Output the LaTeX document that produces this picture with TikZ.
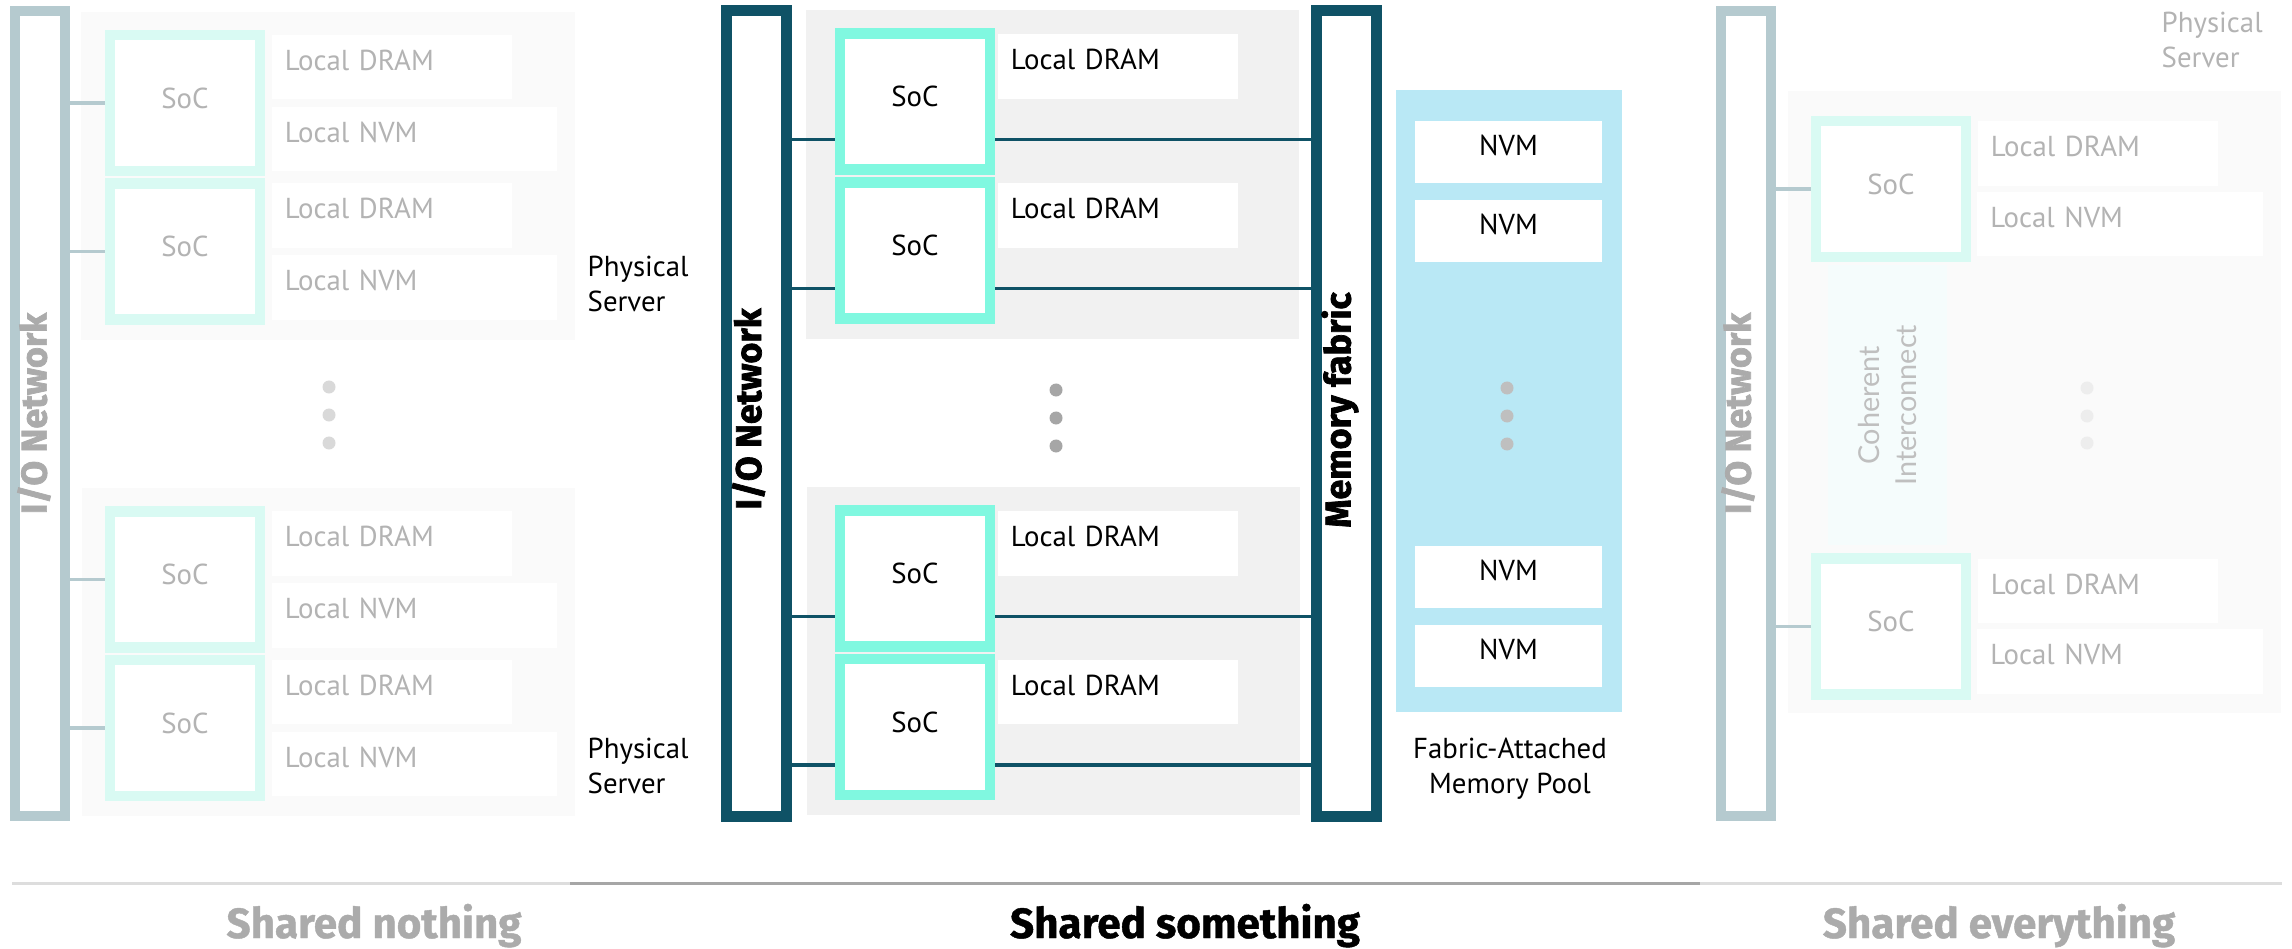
\documentclass[tikz,border=0pt]{standalone}
\usepackage{fontspec}
\setmainfont{PT Sans}
\newfontfamily\barfont{Fira Sans}[BoldFeatures={FakeBold=2}]
\newfontfamily\headfont{Fira Sans}[BoldFeatures={FakeBold=1}]
\newfontfamily\thinfont{Lato}
\usepackage{tikz}
\definecolor{netdark}{HTML}{0F5266}
\definecolor{netpale}{HTML}{B5CACF}
\definecolor{socmint}{HTML}{80F8E0}
\definecolor{socpale}{HTML}{D9FAF3}
\definecolor{poolblue}{HTML}{B9E8F5}
\definecolor{srvgray}{HTML}{F1F1F1}
\definecolor{srvfade}{HTML}{FAFAFA}
\definecolor{cohfade}{HTML}{F5FCFC}
\definecolor{txtfade}{HTML}{B3B3B3}
\definecolor{barfade}{HTML}{ABABAB}
\definecolor{rulelight}{HTML}{DDDDDD}
\definecolor{ruledark}{HTML}{A6A6A6}
\tikzset{
  server/.style={minimum width=4.93cm, minimum height=3.28cm, inner sep=0pt},
  bar/.style={draw, fill=white, line width=0.1cm, minimum width=0.5cm, minimum height=8.05cm, inner sep=0pt},
  bartext/.style={rotate=90, inner sep=0pt, font=\barfont\bfseries\fontsize{10.2}{12}\selectfont},
  soc/.style={draw, fill=white, line width=0.105cm, minimum width=1.495cm, minimum height=1.355cm, text depth=0.1cm, inner sep=0pt},
  dram/.style={fill=white, minimum width=2.4cm, minimum height=0.64cm, text width=2.14cm, inner xsep=0.13cm, inner ysep=0pt, text depth=0.14cm, align=left},
  nvm/.style={dram, minimum width=2.85cm, text width=2.59cm},
  poolnvm/.style={fill=white, minimum width=1.87cm, minimum height=0.62cm, inner sep=0pt, text depth=0.14cm},
  wire/.style={line width=0.035cm},
  caption/.style={inner sep=0pt, align=left},
  title/.style={inner sep=0pt, font=\headfont\bfseries\fontsize{12}{14}\selectfont},
}
\begin{document}
\begin{tikzpicture}[x=0.01cm,y=-0.01cm,font=\fontsize{8.2}{10}\selectfont]
\useasboundingbox (0,0) rectangle (2292,949);
% shared nothing
\node[server,fill=srvfade] (nsrv1) at (328,176) {};
\node[server,fill=srvfade] (nsrv2) at (328.5,652) {};
\node[bar,draw=netpale] (nnet) at (40,413.5) {};
\node[bartext,text=barfade] (nnettext) at ([xshift=-0.06cm]nnet.center) {I/O Network};
\foreach \n/\y in {1/103,2/251.5,3/579.5,4/728}{
  \node[soc,draw=socpale,text=txtfade] (nsoc\n) at (185,\y) {SoC};
  \node[dram,text=txtfade] (ndram\n) at (392,\y-36) {Local DRAM};
  \node[nvm,text=txtfade] (nnvm\n) at (414.5,\y+36) {Local NVM};
  \draw[wire,netpale] (nsoc\n.west -| nnet.east) -- (nsoc\n.west);
}
\foreach \y in {387,415,443} \fill[black!15] (329,\y) circle (0.065cm);
\node[caption,anchor=north west] (srvlabel1) at (587,255) {Physical\\Server};
\node[caption,anchor=north west] (srvlabel2) at (587,737) {Physical\\Server};
% shared something
\node[server,fill=srvgray] (ssrv1) at (1052.5,174.5) {};
\node[server,fill=srvgray] (ssrv2) at (1053.5,651) {};
\node[bar,draw=netdark,line width=0.11cm,minimum width=0.6cm] (snet) at (756.5,413.5) {};
\node[bartext] (snettext) at ([xshift=-0.08cm,yshift=0.045cm]snet.center) {I/O Network};
\node[bar,draw=netdark,line width=0.11cm,minimum width=0.6cm] (fabric) at (1346.5,413.5) {};
\node[bartext] (fabrictext) at ([xshift=-0.065cm,yshift=0.035cm]fabric.center) {Memory fabric};
\foreach \n/\y in {1/101.5,2/250.5,3/578.5,4/727}{
  \node[soc,draw=socmint] (ssoc\n) at (915,\y) {SoC};
  \node[dram] (sdram\n) at (1118,\y-35) {Local DRAM};
  \draw[wire,netdark] ([yshift=-0.38cm]ssoc\n.west -| snet.east) -- ([yshift=-0.38cm]ssoc\n.west);
  \draw[wire,netdark] ([yshift=-0.38cm]ssoc\n.east) -- ([yshift=-0.38cm]ssoc\n.east -| fabric.west);
}
\foreach \y in {390,418,446} \fill[ruledark] (1056,\y) circle (0.065cm);
\node[fill=poolblue,minimum width=2.26cm,minimum height=6.22cm,inner sep=0pt] (pool) at (1509,401) {};
\foreach \n/\y in {1/152,2/231,3/577,4/656}
  \node[poolnvm] (pnvm\n) at (1508.5,\y) {NVM};
\foreach \y in {388,416,444} \fill[black!25] (1507,\y) circle (0.065cm);
\node[caption,align=center,anchor=north] (poollabel) at (1510,737) {Fabric-Attached\\Memory Pool};
% shared everything
\node[server,fill=srvfade,minimum height=6.22cm] (esrv) at (2034.5,402) {};
\node[bar,draw=netpale] (enet) at (1746,413.5) {};
\node[bartext,text=barfade] (enettext) at ([xshift=-0.08cm]enet.center) {I/O Network};
\node[fill=cohfade,rotate=90,minimum width=2.8cm,minimum height=1.19cm,inner sep=0pt,align=center,
  text=black!25,font=\thinfont\fontsize{8.2}{10.5}\selectfont] (coh) at (1887.5,405) {Coherent\\Interconnect};
\foreach \n/\y in {1/189,2/626.5}{
  \node[soc,draw=socpale,text=txtfade] (esoc\n) at (1891,\y) {SoC};
  \node[dram,text=txtfade] (edram\n) at (2098,\y-35.5) {Local DRAM};
  \node[nvm,text=txtfade] (envm\n) at (2120,\y+35) {Local NVM};
  \draw[wire,netpale] (esoc\n.west -| enet.east) -- (esoc\n.west);
}
\foreach \y in {388,416,443} \fill[black!7] (2087,\y) circle (0.065cm);
\node[caption,anchor=north west,text=txtfade] (srvlabel3) at (2161,11) {Physical\\Server};
% rules and titles
\coordinate (r0) at (12,883);
\coordinate (r1) at (570,883);
\coordinate (r2) at (1700,883);
\coordinate (r3) at (2282,883);
\draw[line width=0.03cm,rulelight] (r0) -- (r1);
\draw[line width=0.03cm,ruledark] (r1) -- (r2);
\draw[line width=0.03cm,rulelight] (r2) -- (r3);
\node[title,text=barfade,anchor=base] (tnothing) at (374,938) {Shared nothing};
\node[title,anchor=base] (tsomething) at (1185,938) {Shared something};
\node[title,text=barfade,anchor=base] (teverything) at (1999,938) {Shared everything};
\end{tikzpicture}
\end{document}
